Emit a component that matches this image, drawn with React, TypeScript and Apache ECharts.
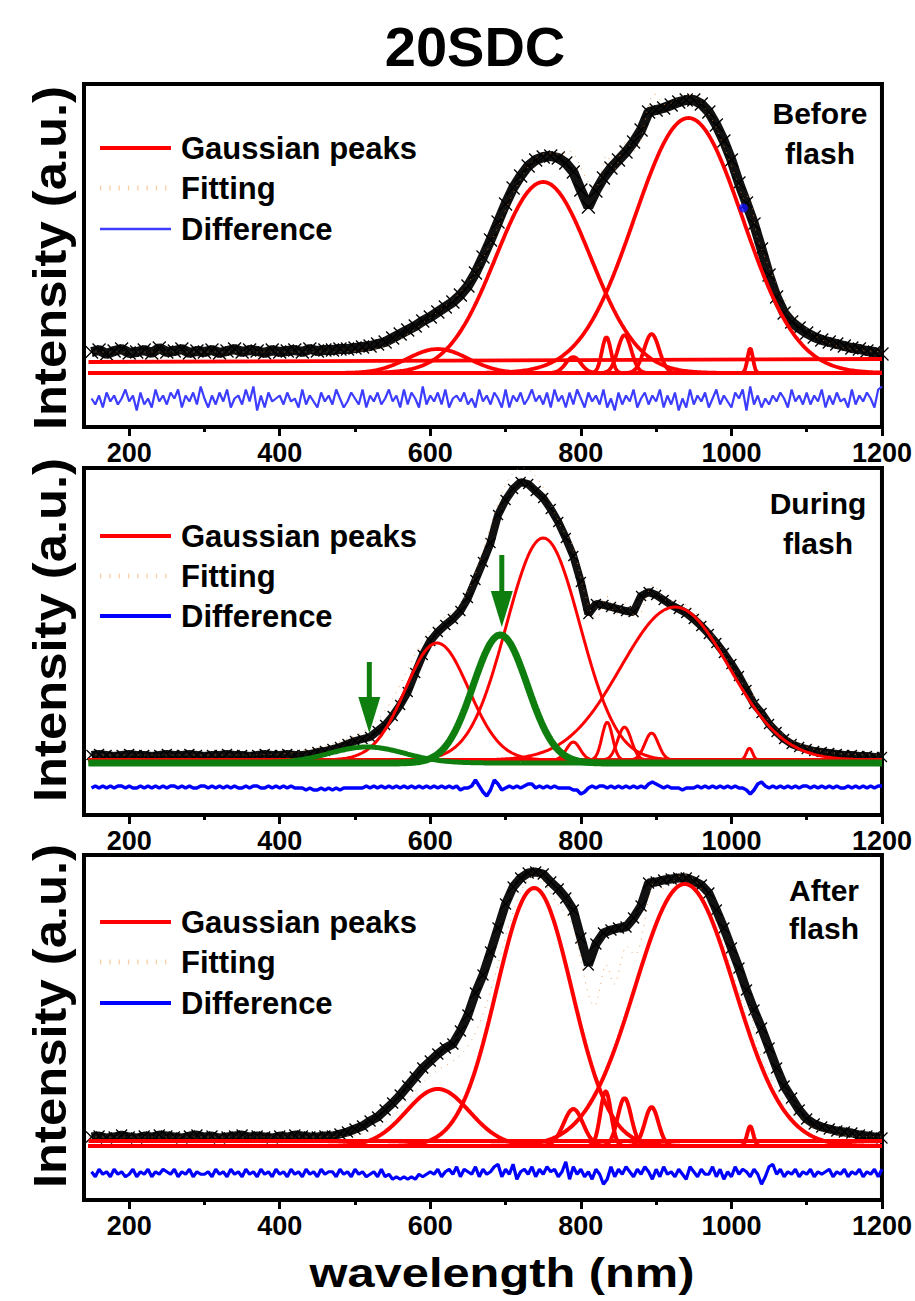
import React, { useEffect, useRef } from "react";
import * as echarts from "echarts";

// ---------- axis ----------
const X_MIN = 140;
const X_MAX = 1200;
const majorTicks = [200, 400, 600, 800, 1000, 1200];
const minorTicks = [300, 500, 700, 900, 1100];

// measured wavelengths (nm): every 10 nm from 150 to 1200
const wavelengths: number[] = Array.from({ length: 106 }, (_, i) => 150 + i * 10);
// difference curve wavelengths: every 5 nm from 150 to 1200
const diffWavelengths: number[] = Array.from({ length: 211 }, (_, i) => 150 + i * 5);
// wavelength grid used to draw the fitted Gaussian peaks
const peakGrid: number[] = Array.from({ length: 528 }, (_, i) => 146 + i * 2);

// ---------- measured spectra (a.u.) ----------
const beforeIntensity = [
  75, 77, 73, 76, 78, 74, 75, 77, 74, 79,
  75, 76, 78, 74, 76, 75, 77, 74, 76, 78,
  75, 77, 76, 74, 77, 75, 76, 77, 75, 78,
  76, 77, 77, 78, 78, 79, 80, 81, 83, 85,
  89, 93, 97, 101, 106, 110, 115, 120, 125, 132,
  141, 154, 170, 187, 205, 223, 239, 251, 261, 267,
  270, 271, 269, 264, 255, 237, 220, 236, 249, 259,
  267, 275, 285, 297, 315, 317, 319, 322, 325, 327,
  327, 323, 315, 302, 286, 267, 244, 224, 203, 178,
  152, 130, 114, 105, 99, 94, 90, 87, 85, 83,
  81, 79, 78, 76, 75, 73,
];
const duringIntensity = [
  60, 61, 60, 59, 60, 61, 60, 60, 59, 60,
  61, 60, 60, 61, 60, 59, 60, 60, 61, 60,
  60, 59, 60, 61, 60, 60, 61, 60, 60, 61,
  63, 64, 66, 68, 71, 74, 76, 78, 84, 90,
  99, 110, 123, 142, 160, 174, 183, 190, 196, 204,
  217, 235, 253, 272, 300, 315, 326, 333, 331, 324,
  317, 306, 293, 277, 259, 233, 201, 211, 210, 208,
  206, 204, 203, 219, 223, 220, 215, 210, 206, 202,
  196, 189, 181, 172, 162, 151, 139, 125, 111, 102,
  91, 83, 76, 71, 68, 66, 64, 63, 62, 61,
  60, 60, 59, 59, 58, 58,
];
const afterIntensity = [
  63, 64, 62, 63, 65, 63, 62, 64, 63, 65,
  64, 63, 62, 64, 65, 63, 64, 62, 63, 64,
  65, 63, 64, 63, 62, 64, 63, 65, 64, 63,
  63, 64, 64,
  66, 68, 71, 74, 79, 83, 90, 97, 105, 114,
  123, 132, 139, 146, 152, 156, 169, 185, 207, 225,
  248, 272, 296, 313, 322, 327, 328, 326, 318, 311,
  302, 290, 262, 235, 256, 267, 270, 272, 273, 282,
  294, 317, 318, 320, 321, 322, 322, 319, 315, 307,
  290, 272, 252, 232, 210, 190, 172, 152, 132, 114,
  102, 90, 81, 76, 73, 71, 69, 68, 67, 65,
  64, 63, 62,
];

// ---------- fitted Gaussian peaks (centre nm, height a.u., sigma nm) ----------
const beforeCenters = [610, 750, 943, 790, 834, 858, 894, 1025];
const beforeHeights = [24, 191, 255, 16, 36, 38, 39, 25];
const beforeSigmas = [40, 63, 72, 10, 6, 9, 10, 3.5];

const duringCenters = [609, 750, 925, 790, 835, 858, 894, 1024];
const duringHeights = [117, 222, 153, 18, 38, 33, 27, 12];
const duringSigmas = [42, 49, 72, 9, 7, 9, 9, 4];
const duringGreenCenters = [516, 693];
const duringGreenHeights = [16, 128];
const duringGreenSigmas = [50, 36];

const afterCenters = [610, 738, 938, 790, 833, 858, 894, 1025];
const afterHeights = [57, 258, 262, 37, 55, 48, 39, 20];
const afterSigmas = [42, 50, 66, 13, 7, 9, 9, 4];

// peak baselines and backgrounds (a.u.)
const peakBase = [54, 55, 54];
const greenBase = 52;
const fitBackground = [21, 5, 9];
const backgroundLines: (number[][] | null)[] = [
  [[146, 65], [1200, 68]],
  null,
  [[146, 59], [1200, 59]],
];

// ---------- difference curves (digit codes, one per 5 nm) ----------
const beforeDiff =
  "5362746358461735284637582647395263748256384916274563745283642746385247" +
  "5382647358462837529364738256473528463752826473584637284627385274638251" +
  "7364825736482637152836472583642758193625364752846373648263745283647528" +
  "9";
const duringDiff =
  "4545454554544545454545545454455454545454454554454545454443433434343444" +
  "4445454545454545454545454545344585203863454545664545454444331245455454" +
  "5454545467654544434445454545454544313675454545454554545454544545454545" +
  "5";
const afterDiff =
  "5364536453463546354654635463544536453645364536453645364536453645536453" +
  "6453453634232323243454635647365473645783648256473647563592746352640273" +
  "6475364752637453642753644736253746536403784635463546354563546354635463" +
  "6";
const diffCenter = [27, 28, 27];
const diffScale = [3, 2, 2.5];

const blueDot = [1016, 219];

// arrows marking the new (green) peaks during flash: nm, tail, tip (a.u.)
const arrowNm = [519, 695];
const arrowTail = [153, 260];
const arrowTip = [82, 188];

const panelNotes = [["Before", "flash"], ["During", "flash"], ["After", "flash"]];
const legendNames = ["Gaussian peaks", "Fitting", "Difference"];

// ---------- styling / layout ----------
const FONT = '"Liberation Sans", Arial, Helvetica, sans-serif';
const RED = "#ff0000";
const GREEN = "#0e7f0e";
const layout = [
  { top: 84, height: 343, yLabelY: 258, legendY: [148, 188, 229], noteX: 820, noteY: [113, 153],
    marker: 13, band: 10, peakW: 3.8, diffColor: "#3d3dff", diffW: 2.2, legDiffW: 2.5 },
  { top: 468, height: 347, yLabelY: 630, legendY: [536, 576, 616], noteX: 818, noteY: [503, 543],
    marker: 10, band: 8, peakW: 3, diffColor: "#0000ff", diffW: 3.5, legDiffW: 4 },
  { top: 855, height: 345, yLabelY: 1016, legendY: [922, 962, 1003], noteX: 824, noteY: [890, 928],
    marker: 11, band: 9, peakW: 4, diffColor: "#0000ff", diffW: 3.2, legDiffW: 4 },
];

const gauss = (x: number, c: number, a: number, s: number) =>
  a * Math.exp(-((x - c) * (x - c)) / (2 * s * s));

const panelData = [
  { intensity: beforeIntensity, c: beforeCenters, h: beforeHeights, s: beforeSigmas, diff: beforeDiff },
  { intensity: duringIntensity, c: duringCenters, h: duringHeights, s: duringSigmas, diff: duringDiff },
  { intensity: afterIntensity, c: afterCenters, h: afterHeights, s: afterSigmas, diff: afterDiff },
];

function buildOption() {
  const grids: any[] = [];
  const xAxes: any[] = [];
  const yAxes: any[] = [];
  const series: any[] = [];

  layout.forEach((L, i) => {
    grids.push({
      left: 84, width: 800, top: L.top, height: L.height,
      show: true, borderColor: "#000", borderWidth: 4, backgroundColor: "transparent",
    });
    yAxes.push({ type: "value", gridIndex: i, min: 0, max: L.height, show: false });
  });
  layout.forEach((L, i) => {
    xAxes.push({
      type: "value", gridIndex: i, min: X_MIN, max: X_MAX, position: "bottom",
      axisLine: { show: true, onZero: false, lineStyle: { color: "#000", width: 4 } },
      axisTick: { show: true, customValues: majorTicks, length: 9, lineStyle: { color: "#000", width: 3 } },
      axisLabel: {
        show: true, customValues: majorTicks, margin: 12, fontSize: 27, fontWeight: "bold",
        color: "#000", fontFamily: FONT, formatter: (v: number) => String(v),
      },
      splitLine: { show: false },
    });
  });
  layout.forEach((L, i) => {
    xAxes.push({
      type: "value", gridIndex: i, min: X_MIN, max: X_MAX, position: "bottom",
      axisLine: { show: false, onZero: false },
      axisTick: { show: true, customValues: minorTicks, length: 5, lineStyle: { color: "#000", width: 3 } },
      axisLabel: { show: false },
      splitLine: { show: false },
    });
  });

  panelData.forEach((P, i) => {
    const L = layout[i];
    const ax = { xAxisIndex: i, yAxisIndex: i };
    // measured data
    series.push({
      ...ax, type: "line", name: "data", silent: true, z: 2,
      data: wavelengths.map((w, k) => [w, P.intensity[k]]),
      symbol: "path://M0,0L10,10M10,0L0,10", symbolSize: L.marker, showAllSymbol: true,
      itemStyle: { color: "rgba(0,0,0,0)", borderColor: "#000", borderWidth: 1.3 },
      lineStyle: { color: "#111", width: L.band },
    });
    // fitting
    const fit = peakGrid.map((x) => {
      let v = peakBase[i] + fitBackground[i];
      P.c.forEach((c, k) => (v += gauss(x, c, P.h[k], P.s[k])));
      if (i === 1) duringGreenCenters.forEach((c, k) => (v += gauss(x, c, duringGreenHeights[k], duringGreenSigmas[k])));
      return [x, v];
    });
    series.push({
      ...ax, type: "line", name: "Fitting", silent: true, z: 3, symbol: "none", data: fit,
      lineStyle: { color: "#d9893f", width: 1, type: [1, 6], opacity: 0.8 },
    });
    // background line
    const bl = backgroundLines[i];
    if (bl) {
      series.push({
        ...ax, type: "line", name: "background", silent: true, z: 4, symbol: "none", data: bl,
        lineStyle: { color: RED, width: L.peakW },
      });
    }
    // Gaussian peaks
    P.c.forEach((c, k) => {
      series.push({
        ...ax, type: "line", name: "Gaussian peaks", silent: true, z: 4, symbol: "none",
        data: peakGrid.map((x) => [x, peakBase[i] + gauss(x, c, P.h[k], P.s[k])]),
        lineStyle: { color: RED, width: L.peakW },
      });
    });
    if (i === 1) {
      duringGreenCenters.forEach((c, k) => {
        series.push({
          ...ax, type: "line", name: "new peak", silent: true, z: 5, symbol: "none",
          data: peakGrid.map((x) => [x, greenBase + gauss(x, c, duringGreenHeights[k], duringGreenSigmas[k])]),
          lineStyle: { color: GREEN, width: k === 0 ? 5 : 7 },
        });
      });
    }
    // difference
    series.push({
      ...ax, type: "line", name: "Difference", silent: true, z: 5, symbol: "none",
      data: diffWavelengths.map((w, k) => [w, diffCenter[i] + (Number(P.diff[k]) - 4.5) * diffScale[i]]),
      lineStyle: { color: L.diffColor, width: L.diffW },
    });
    if (i === 0) {
      series.push({
        ...ax, type: "scatter", silent: true, z: 6, data: [blueDot], symbolSize: 9,
        itemStyle: { color: "#1414ff" },
      });
    }
  });

  return {
    animation: false,
    backgroundColor: "#fff",
    grid: grids,
    xAxis: xAxes,
    yAxis: yAxes,
    series,
  };
}

function staticGraphics() {
  const els: any[] = [];
  const txt = (x: number, y: number, text: string, fontSize: number, extra: any = {}) => ({
    type: "text", x, y, z: 100, silent: true, ...extra,
    style: {
      text, fontSize, fontWeight: "bold", fontFamily: FONT, fill: "#000",
      align: extra.align || "center", verticalAlign: "middle",
    },
  });
  els.push(txt(475, 46, "20SDC", 56));
  els.push(txt(502, 1273, "wavelength (nm)", 40, { scaleX: 1.22 }));
  layout.forEach((L, i) => {
    els.push(txt(50, L.yLabelY, "Intensity (a.u.)", 47, { rotation: Math.PI / 2, scaleX: 1.08 }));
    // legend
    els.push({ type: "line", z: 100, silent: true, shape: { x1: 100, y1: L.legendY[0], x2: 171, y2: L.legendY[0] },
      style: { stroke: RED, lineWidth: 4 } });
    els.push({ type: "line", z: 100, silent: true, shape: { x1: 100, y1: L.legendY[1], x2: 171, y2: L.legendY[1] },
      style: { stroke: "#fbcfa6", lineWidth: 5, lineDash: [1.3, 8] } });
    els.push({ type: "line", z: 100, silent: true, shape: { x1: 100, y1: L.legendY[2], x2: 171, y2: L.legendY[2] },
      style: { stroke: L.diffColor, lineWidth: L.legDiffW } });
    legendNames.forEach((n, k) => els.push(txt(181, L.legendY[k], n, 31, { align: "left" })));
    // note
    els.push(txt(L.noteX, L.noteY[0], panelNotes[i][0], 30));
    els.push(txt(L.noteX, L.noteY[1], panelNotes[i][1], 30));
  });
  return els;
}

export default function App() {
  const ref = useRef<HTMLDivElement>(null);
  useEffect(() => {
    const chart = echarts.init(ref.current!, null, { renderer: "svg" });
    chart.setOption(buildOption() as any);
    const arrows: any[] = [];
    arrowNm.forEach((nm, k) => {
      const tail = chart.convertToPixel({ xAxisIndex: 1, yAxisIndex: 1 } as any, [nm, arrowTail[k]]) as number[];
      const tip = chart.convertToPixel({ xAxisIndex: 1, yAxisIndex: 1 } as any, [nm, arrowTip[k]]) as number[];
      const x = tail[0];
      const headTop = tip[1] - 36;
      arrows.push({ type: "line", z: 110, silent: true, shape: { x1: x, y1: tail[1], x2: x, y2: headTop + 2 },
        style: { stroke: GREEN, lineWidth: 5 } });
      arrows.push({ type: "polygon", z: 110, silent: true,
        shape: { points: [[x - 11, headTop], [x + 11, headTop], [x, tip[1]]] },
        style: { fill: GREEN } });
    });
    chart.setOption({ graphic: { elements: [...staticGraphics(), ...arrows] } } as any);
    return () => chart.dispose();
  }, []);
  return <div ref={ref} style={{ position: "absolute", left: 0, top: 0, width: 915, height: 1301 }} />;
}
